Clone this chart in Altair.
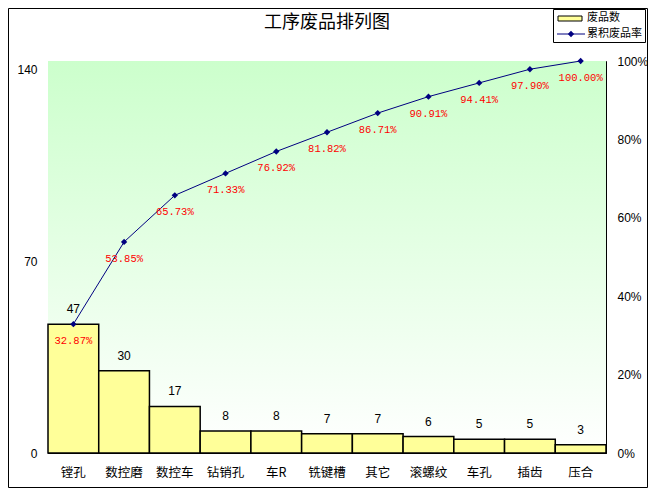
import altair as alt
import pandas as pd

categories = ["镗孔", "数控磨", "数控车", "钻销孔", "车R", "铣键槽", "其它", "滚螺纹", "车孔", "插齿", "压合"]
counts = [47, 30, 17, 8, 8, 7, 7, 6, 5, 5, 3]
cum_pct = [0.3287, 0.5385, 0.6573, 0.7133, 0.7692, 0.8182, 0.8671, 0.9091, 0.9441, 0.9790, 1.0]
left_ticks = [0, 70, 140]
right_ticks = [0, 0.2, 0.4, 0.6, 0.8, 1.0]
title_text = "工序废品排列图"
legend_bar = "废品数"
legend_line = "累积废品率"

df = pd.DataFrame({"cat": categories, "count": counts, "cum": cum_pct})

W, H = 558, 392
LAT = "Liberation Sans"
CJK = "Noto Sans CJK SC"
NAVY = "#000080"

one = alt.Data(values=[{}])

xenc = alt.X(
    "cat:N", sort=categories,
    scale=alt.Scale(paddingInner=0, paddingOuter=0),
    axis=alt.Axis(title=None, ticks=False, labelAngle=0, labelFont=CJK,
                  labelFontSize=12.5, labelColor="black", labelPadding=13,
                  domainColor="black", domainWidth=1),
)

yleft = alt.Y(
    "count:Q",
    scale=alt.Scale(domain=[0, 143], nice=False, zero=True),
    axis=alt.Axis(orient="left", values=left_ticks, title=None, grid=False,
                  domainColor="black", tickColor="black",
                  tickSize=alt.ExprRef(expr="-4"), labelPadding=15,
                  labelFont=LAT, labelFontSize=12, labelColor="black"),
)

yright = alt.Y(
    "cum:Q",
    scale=alt.Scale(domain=[0, 1], nice=False, zero=True),
    axis=alt.Axis(orient="right", values=right_ticks, format=".0%", title=None,
                  grid=False, domainColor="black", tickColor="black",
                  tickSize=alt.ExprRef(expr="-4"), labelPadding=15,
                  labelFont=LAT, labelFontSize=12, labelColor="black"),
)

bg = alt.Chart(one).mark_rect(
    fill=alt.Gradient(gradient="linear", x1=0, y1=0, x2=0, y2=1,
                      stops=[alt.GradientStop(color="#CCFFCC", offset=0),
                             alt.GradientStop(color="#FFFFFF", offset=1)])
).encode(x=alt.value(0), x2=alt.value(W), y=alt.value(0), y2=alt.value(H))

base = alt.Chart(df)

bars = base.mark_bar(fill="#FFFF99", stroke="black", strokeWidth=1.5).encode(
    x=xenc, y=yleft)
bar_labels = base.mark_text(baseline="bottom", dy=-8, font=LAT, fontSize=12,
                            color="black").encode(
    x=alt.X("cat:N", sort=categories), y="count:Q", text="count:Q")

left_group = alt.layer(bg, bars, bar_labels)

line = base.mark_line(color=NAVY, strokeWidth=1).encode(
    x=alt.X("cat:N", sort=categories), y=yright)
pts = base.mark_point(shape="diamond", filled=True, color=NAVY, size=40,
                      opacity=1).encode(
    x=alt.X("cat:N", sort=categories), y="cum:Q")
pct_labels = base.mark_text(baseline="middle", dy=17, font="Liberation Mono",
                            fontSize=10.5, color="#FF0000").encode(
    x=alt.X("cat:N", sort=categories), y="cum:Q",
    text=alt.Text("cum:Q", format=".2%"))

right_group = alt.layer(line, pts, pct_labels)

# legend (decorative)
leg_box = alt.Chart(one).mark_rect(fillOpacity=0, stroke="black", strokeWidth=1).encode(
    x=alt.value(505.5), x2=alt.value(597.5), y=alt.value(-51.5), y2=alt.value(-18.5))
leg_swatch = alt.Chart(one).mark_rect(fill="#FFFF99", stroke="black", strokeWidth=1).encode(
    x=alt.value(510), x2=alt.value(534), y=alt.value(-45), y2=alt.value(-40))
leg_t1 = alt.Chart(one).mark_text(align="left", baseline="middle", font=CJK,
                                  fontSize=11, color="black").encode(
    x=alt.value(539), y=alt.value(-43), text=alt.value(legend_bar))
leg_line = alt.Chart(one).mark_rule(color=NAVY, strokeWidth=1).encode(
    x=alt.value(509), x2=alt.value(537), y=alt.value(-27))
leg_pt = alt.Chart(one).mark_point(shape="diamond", filled=True, color=NAVY,
                                   size=40, opacity=1).encode(
    x=alt.value(523), y=alt.value(-27))
leg_t2 = alt.Chart(one).mark_text(align="left", baseline="middle", font=CJK,
                                  fontSize=11, color="black").encode(
    x=alt.value(539), y=alt.value(-27), text=alt.value(legend_line))
border = alt.Chart(one).mark_rect(fillOpacity=0, stroke="black", strokeWidth=1).encode(
    x=alt.value(-39.5), x2=alt.value(599.5), y=alt.value(-52.5), y2=alt.value(426.5))
title_mark = alt.Chart(one).mark_text(align="center", baseline="middle", font=CJK,
                                      fontSize=18, color="black").encode(
    x=alt.value(W / 2), y=alt.value(-38), text=alt.value(title_text))

deco = alt.layer(leg_box, leg_swatch, leg_t1, leg_line, leg_pt, leg_t2, border, title_mark)

chart = alt.layer(left_group, right_group, deco).resolve_scale(y="independent").properties(
    width=W, height=H,
    autosize=alt.AutoSizeParams(type="none"),
    padding={"left": 40, "top": 53, "right": 42, "bottom": 35},
).configure_view(stroke="#808080", strokeWidth=1).configure(background="white")

chart.save("out.html", embed_options={"renderer": "svg", "actions": False})
